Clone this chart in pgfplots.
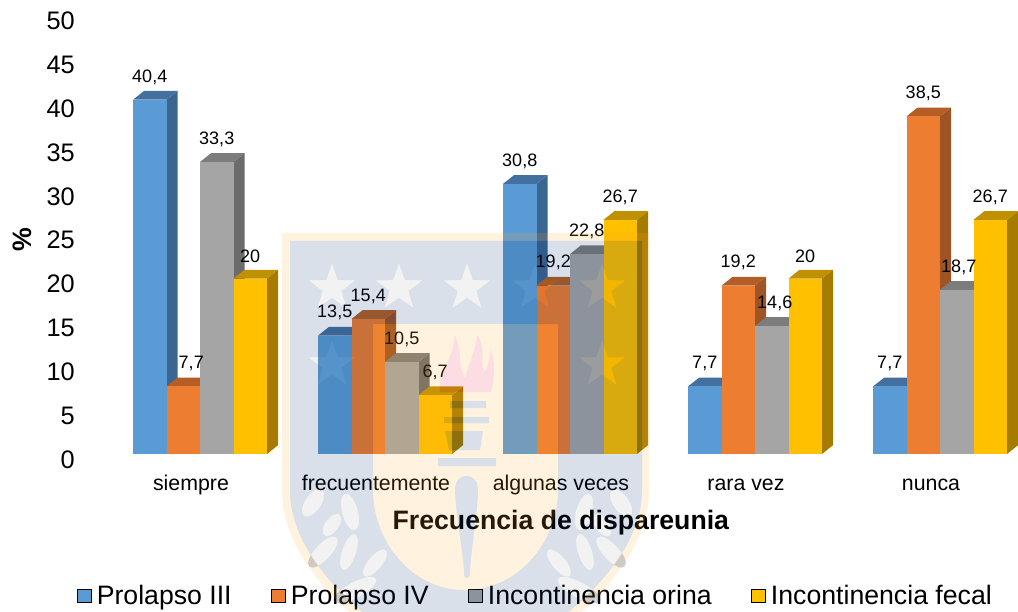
\documentclass[border=0pt]{standalone}
\usepackage{fontspec}
\setmainfont{Liberation Sans}
\usepackage{pgfplots}
\pgfplotsset{compat=1.18}
\definecolor{blueF}{HTML}{5B9BD5}\definecolor{blueS}{HTML}{3B6690}\definecolor{blueT}{HTML}{43709E}
\definecolor{oranF}{HTML}{ED7D31}\definecolor{oranS}{HTML}{9E5424}\definecolor{oranT}{HTML}{B45E25}
\definecolor{grayF}{HTML}{A5A5A5}\definecolor{grayS}{HTML}{6C6C6C}\definecolor{grayT}{HTML}{7C7C7C}
\definecolor{goldF}{HTML}{FFC000}\definecolor{goldS}{HTML}{A67C00}\definecolor{goldT}{HTML}{BF9000}
\definecolor{wmBlue}{HTML}{00306C}\definecolor{wmGold}{HTML}{FFA82A}\definecolor{wmRose}{HTML}{E61E46}
% group, slot, value, colour prefix
\newcommand\Bar[4]{%
  \pgfmathsetmacro\xa{#1+(#2-2)*0.18108}%
  \pgfmathsetmacro\xb{\xa+0.18108}%
  \pgfmathsetmacro\xc{\xb+0.05946}%
  \pgfmathsetmacro\xd{\xa+0.05946}%
  \pgfmathsetmacro\vb{#3+1}%
  \edef\tmp{%
    \noexpand\addplot[forget plot,draw=none,fill=#4S] coordinates {(\xb,0)(\xc,1)(\xc,\vb)(\xb,#3)} --cycle;
    \noexpand\addplot[forget plot,draw=none,fill=#4T] coordinates {(\xa,#3)(\xb,#3)(\xc,\vb)(\xd,\vb)} --cycle;
    \noexpand\addplot[forget plot,draw=none,fill=#4F] coordinates {(\xa,0)(\xb,0)(\xb,#3)(\xa,#3)} --cycle;
  }\tmp}
% group, slot, value, text, dx(px)
\newcommand\Lab[5]{%
  \pgfmathsetmacro\xm{#1+(#2-1.5)*0.18108+#5/185}%
  \pgfmathsetmacro\ym{#3+2.6}%
  \edef\tmp{\noexpand\node[font=\noexpand\fontsize{13.5pt}{15pt}\noexpand\selectfont,inner sep=0pt] at (axis cs:\xm,\ym) {#4};}\tmp}
\newcommand\StarPath[2]{([shift={(#1,#2)}]0,-25) -- ([shift={(#1,#2)}]5.88,-8.09) -- ([shift={(#1,#2)}]23.78,-7.73) -- ([shift={(#1,#2)}]9.51,3.09) -- ([shift={(#1,#2)}]14.69,20.23) -- ([shift={(#1,#2)}]0,10) -- ([shift={(#1,#2)}]-14.69,20.23) -- ([shift={(#1,#2)}]-9.51,3.09) -- ([shift={(#1,#2)}]-23.78,-7.73) -- ([shift={(#1,#2)}]-5.88,-8.09) -- cycle}
\newcommand\Stars{\StarPath{332}{288} \StarPath{399}{288} \StarPath{467}{288} \StarPath{535}{288} \StarPath{602}{288} \StarPath{332}{365} \StarPath{602}{365}}
\newcommand\Leaves{%
 (313,503) ellipse [x radius=8,y radius=16,rotate=-35] (350,512) ellipse [x radius=8,y radius=19,rotate=15]
 (332,525) ellipse [x radius=7,y radius=13,rotate=-35] (323,552) ellipse [x radius=8,y radius=20,rotate=-43]
 (349,552) ellipse [x radius=7,y radius=19,rotate=-18] (375,563) ellipse [x radius=7,y radius=17,rotate=-40]
 (355,590) ellipse [x radius=8,y radius=24,rotate=-62]
 (621,503) ellipse [x radius=8,y radius=16,rotate=35] (584,512) ellipse [x radius=8,y radius=19,rotate=-15]
 (602,525) ellipse [x radius=7,y radius=13,rotate=35] (611,552) ellipse [x radius=8,y radius=20,rotate=43]
 (585,552) ellipse [x radius=7,y radius=19,rotate=18] (559,563) ellipse [x radius=7,y radius=17,rotate=40]
 (579,590) ellipse [x radius=8,y radius=24,rotate=62]}
\newcommand\Flame{(440,392) .. controls (438,370) and (452,365) .. (455,335) .. controls (462,350) and (458,370) .. (465,378) .. controls (470,360) and (476,350) .. (477,335) .. controls (486,345) and (480,365) .. (484,372) .. controls (488,368) and (490,358) .. (491,350) .. controls (496,365) and (494,380) .. (491,392) -- cycle}
\newcommand\Outer{(282,233) -- (649,233) -- (649,490) .. controls (649,570) and (560,640) .. (465,690) .. controls (370,640) and (282,570) .. (282,490) -- cycle}
\newcommand\Inner{(290,241) -- (642,241) -- (642,490) .. controls (642,565) and (555,632) .. (465,680) .. controls (375,632) and (290,565) .. (290,490) -- cycle}
\newcommand\Cream{(373,324) -- (558,324) -- (558,490) .. controls (558,540) and (520,590) .. (465,590) .. controls (410,590) and (373,540) .. (373,490) -- cycle}
\newcommand\Torch{(450,401) rectangle (486,408) (444,417) rectangle (489,423)
  (445,431) -- (483,431) -- (480,450) -- (449,450) -- cycle
  (438,458) rectangle (496,466)
  (455,490) .. controls (455,471) and (478,471) .. (478,490) .. controls (478,510) and (471,550) .. (470,572) .. controls (471,580) and (463,580) .. (464,572) .. controls (463,550) and (455,510) .. (455,490) -- cycle}
\begin{document}
\begin{tikzpicture}
\path[use as bounding box] (0,-117.75pt) rectangle (763.5pt,340.5pt);
\begin{axis}[
  scale only axis, width=763.5pt, height=340.5pt,
  xmin=-1.08108, xmax=4.42162, ymin=0, ymax=51.77,
  clip=false, axis line style={draw=none}, major tick length=0pt,
  xtick={0,1,2,3,4},
  xticklabels={siempre,frecuentemente,algunas veces,rara vez,nunca},
  ytick={0,5,...,50},
  x tick label style={font=\fontsize{16pt}{18pt}\selectfont,anchor=base,yshift=-27pt,xshift=-6.75pt},
  y tick label style={font=\fontsize{19pt}{22pt}\selectfont,anchor=east,inner sep=0pt,xshift=56.25pt,yshift=-4.1pt},
  /pgf/number format/assume math mode=true,
  xlabel={\textbf{Frecuencia de dispareunia}},
  ylabel={\textbf{\%}},
  every axis x label/.style={at={(axis cs:1.951,-7.8)},anchor=center,font=\fontsize{20pt}{24pt}\selectfont},
  every axis y label/.style={at={(axis cs:-0.962,24.5)},anchor=center,rotate=90,font=\fontsize{20pt}{24pt}\selectfont},
  legend columns=4,
  legend image code/.code={\fill[#1] (0pt,-5pt) rectangle (10pt,5pt);\path (12.25pt,0pt);},
  legend style={at={(axis cs:-0.665,-16.15)},anchor=west,draw=none,fill=none,inner sep=0pt,
    font=\fontsize{20pt}{24pt}\selectfont,
    /tikz/every even column/.append style={column sep=27.75pt}},
]
\addlegendimage{fill=blueF}\addlegendentry{Prolapso III}
\addlegendimage{fill=oranF}\addlegendentry{Prolapso IV}
\addlegendimage{fill=grayF}\addlegendentry{Incontinencia orina}
\addlegendimage{fill=goldF}\addlegendentry{Incontinencia fecal}
\Bar{0}{0}{40.4}{blue}\Bar{0}{1}{7.7}{oran}\Bar{0}{2}{33.3}{gray}\Bar{0}{3}{20}{gold}
\Bar{1}{0}{13.5}{blue}\Bar{1}{1}{15.4}{oran}\Bar{1}{2}{10.5}{gray}\Bar{1}{3}{6.7}{gold}
\Bar{2}{0}{30.8}{blue}\Bar{2}{1}{19.2}{oran}\Bar{2}{2}{22.8}{gray}\Bar{2}{3}{26.7}{gold}
\Bar{3}{0}{7.7}{blue}\Bar{3}{1}{19.2}{oran}\Bar{3}{2}{14.6}{gray}\Bar{3}{3}{20}{gold}
\Bar{4}{0}{7.7}{blue}\Bar{4}{1}{38.5}{oran}\Bar{4}{2}{18.7}{gray}\Bar{4}{3}{26.7}{gold}
\Lab{0}{0}{40.4}{40,4}{0}\Lab{0}{1}{7.7}{7,7}{8}\Lab{0}{2}{33.3}{33,3}{0}\Lab{0}{3}{20}{20}{0}
\Lab{1}{0}{13.5}{13,5}{0}\Lab{1}{1}{15.4}{15,4}{0}\Lab{1}{2}{10.5}{10,5}{0}\Lab{1}{3}{6.7}{6,7}{0}
\Lab{2}{0}{30.8}{30,8}{0}\Lab{2}{1}{19.2}{19,2}{0}\Lab{2}{2}{22.8}{22,8}{0}\Lab{2}{3}{26.7}{26,7}{0}
\Lab{3}{0}{7.7}{7,7}{0}\Lab{3}{1}{19.2}{19,2}{0}\Lab{3}{2}{14.6}{14,6}{3}\Lab{3}{3}{20}{20}{0}
\Lab{4}{0}{7.7}{7,7}{0}\Lab{4}{1}{38.5}{38,5}{0}\Lab{4}{2}{18.7}{18,7}{2}\Lab{4}{3}{26.7}{26,7}{0}
\end{axis}
% faded university crest lying over the chart
\begin{scope}[shift={(0pt,340.5pt)},x=0.75pt,y=-0.75pt]
\clip (0,0) rectangle (1018,611);
\fill[wmGold,fill opacity=.15,even odd rule] \Outer \Inner;
\fill[wmBlue,fill opacity=.15,even odd rule] \Inner \Cream \Stars \Leaves;
\fill[wmGold,fill opacity=.15,even odd rule] \Cream \Flame \Torch;
\fill[wmRose,fill opacity=.15] \Flame;
\fill[wmBlue,fill opacity=.15] \Torch;
\fill[black,fill opacity=.05] \Stars \Leaves;
\end{scope}
\end{tikzpicture}
\end{document}
